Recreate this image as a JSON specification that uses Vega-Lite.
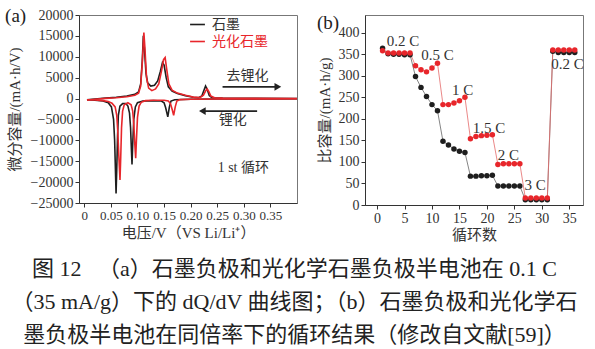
{
  "$schema": "https://vega.github.io/schema/vega-lite/v6.json",
  "background": "white",
  "padding": {"left": 4, "top": 6, "right": 0, "bottom": 0},
  "config": {
    "font": "Liberation Serif, Noto Sans CJK SC",
    "view": {"stroke": "#777", "strokeWidth": 1},
    "axis": {"grid": false, "domainColor": "#333", "tickColor": "#333", "labelColor": "#333", "titleColor": "#333", "labelFont": "Liberation Serif", "titleFont": "Liberation Serif, Noto Sans CJK SC", "titleFontWeight": "normal", "tickSize": 4, "labelPadding": 2, "labelOverlap": false, "labelFlush": false, "tickCount": 30},
    "legend": {"labelFont": "Noto Sans CJK SC", "labelFontSize": 14},
    "title": {"font": "Liberation Serif, Noto Sans CJK SC", "fontWeight": "normal"}
  },
  "title": {
    "text": ["图 12 　（a）石墨负极和光化学石墨负极半电池在 0.1 C", "（35 mA/g）下的 dQ/dV 曲线图；（b）石墨负极和光化学石", "墨负极半电池在同倍率下的循环结果（修改自文献[59]）"],
    "orient": "bottom", "anchor": "middle", "fontSize": 22, "lineHeight": 33, "offset": 16, "color": "#222"
  },
  "hconcat": [
    {
      "width": 218, "height": 188,
      "title": {"text": "(a)", "anchor": "start", "frame": "bounds", "fontSize": 19, "color": "#222", "dy": 22, "dx": -2},
      "layer": [
        {
          "data": {"values": [
            {"v":0.005,"q":-300,"s":"石墨","b":"lith"},{"v":0.02,"q":-400,"s":"石墨","b":"lith"},{"v":0.035,"q":-600,"s":"石墨","b":"lith"},{"v":0.045,"q":-1000,"s":"石墨","b":"lith"},{"v":0.051,"q":-2000,"s":"石墨","b":"lith"},{"v":0.055,"q":-5000,"s":"石墨","b":"lith"},{"v":0.057,"q":-10000,"s":"石墨","b":"lith"},{"v":0.0585,"q":-17000,"s":"石墨","b":"lith"},{"v":0.0597,"q":-22700,"s":"石墨","b":"lith"},{"v":0.061,"q":-17000,"s":"石墨","b":"lith"},{"v":0.0625,"q":-9000,"s":"石墨","b":"lith"},{"v":0.064,"q":-4000,"s":"石墨","b":"lith"},{"v":0.067,"q":-1800,"s":"石墨","b":"lith"},{"v":0.072,"q":-1200,"s":"石墨","b":"lith"},{"v":0.078,"q":-1200,"s":"石墨","b":"lith"},{"v":0.082,"q":-1800,"s":"石墨","b":"lith"},{"v":0.085,"q":-3500,"s":"石墨","b":"lith"},{"v":0.087,"q":-7000,"s":"石墨","b":"lith"},{"v":0.0885,"q":-12000,"s":"石墨","b":"lith"},{"v":0.0897,"q":-15800,"s":"石墨","b":"lith"},{"v":0.091,"q":-11000,"s":"石墨","b":"lith"},{"v":0.093,"q":-5000,"s":"石墨","b":"lith"},{"v":0.096,"q":-2000,"s":"石墨","b":"lith"},{"v":0.1,"q":-1000,"s":"石墨","b":"lith"},{"v":0.11,"q":-600,"s":"石墨","b":"lith"},{"v":0.13,"q":-500,"s":"石墨","b":"lith"},{"v":0.145,"q":-600,"s":"石墨","b":"lith"},{"v":0.15,"q":-1000,"s":"石墨","b":"lith"},{"v":0.153,"q":-2200,"s":"石墨","b":"lith"},{"v":0.157,"q":-4400,"s":"石墨","b":"lith"},{"v":0.16,"q":-2000,"s":"石墨","b":"lith"},{"v":0.163,"q":-600,"s":"石墨","b":"lith"},{"v":0.17,"q":-300,"s":"石墨","b":"lith"},{"v":0.2,"q":-150,"s":"石墨","b":"lith"},{"v":0.25,"q":-100,"s":"石墨","b":"lith"},{"v":0.3,"q":-80,"s":"石墨","b":"lith"},{"v":0.4,"q":-50,"s":"石墨","b":"lith"},
            {"v":0.005,"q":-300,"s":"石墨","b":"delith"},{"v":0.02,"q":-100,"s":"石墨","b":"delith"},{"v":0.04,"q":100,"s":"石墨","b":"delith"},{"v":0.06,"q":300,"s":"石墨","b":"delith"},{"v":0.08,"q":600,"s":"石墨","b":"delith"},{"v":0.095,"q":1000,"s":"石墨","b":"delith"},{"v":0.102,"q":1600,"s":"石墨","b":"delith"},{"v":0.106,"q":3500,"s":"石墨","b":"delith"},{"v":0.109,"q":9000,"s":"石墨","b":"delith"},{"v":0.111,"q":15000,"s":"石墨","b":"delith"},{"v":0.113,"q":12000,"s":"石墨","b":"delith"},{"v":0.116,"q":6000,"s":"石墨","b":"delith"},{"v":0.119,"q":3800,"s":"石墨","b":"delith"},{"v":0.125,"q":3000,"s":"石墨","b":"delith"},{"v":0.132,"q":3200,"s":"石墨","b":"delith"},{"v":0.138,"q":4200,"s":"石墨","b":"delith"},{"v":0.143,"q":6500,"s":"石墨","b":"delith"},{"v":0.147,"q":8600,"s":"石墨","b":"delith"},{"v":0.15,"q":8000,"s":"石墨","b":"delith"},{"v":0.154,"q":5000,"s":"石墨","b":"delith"},{"v":0.158,"q":2800,"s":"石墨","b":"delith"},{"v":0.165,"q":1800,"s":"石墨","b":"delith"},{"v":0.175,"q":1200,"s":"石墨","b":"delith"},{"v":0.19,"q":700,"s":"石墨","b":"delith"},{"v":0.205,"q":300,"s":"石墨","b":"delith"},{"v":0.215,"q":200,"s":"石墨","b":"delith"},{"v":0.221,"q":600,"s":"石墨","b":"delith"},{"v":0.225,"q":2000,"s":"石墨","b":"delith"},{"v":0.228,"q":3000,"s":"石墨","b":"delith"},{"v":0.231,"q":2200,"s":"石墨","b":"delith"},{"v":0.235,"q":700,"s":"石墨","b":"delith"},{"v":0.24,"q":200,"s":"石墨","b":"delith"},{"v":0.26,"q":100,"s":"石墨","b":"delith"},{"v":0.3,"q":50,"s":"石墨","b":"delith"},{"v":0.4,"q":30,"s":"石墨","b":"delith"},
            {"v":0.005,"q":-300,"s":"光化石墨","b":"lith"},{"v":0.02,"q":-350,"s":"光化石墨","b":"lith"},{"v":0.035,"q":-500,"s":"光化石墨","b":"lith"},{"v":0.045,"q":-700,"s":"光化石墨","b":"lith"},{"v":0.052,"q":-1100,"s":"光化石墨","b":"lith"},{"v":0.058,"q":-2000,"s":"光化石墨","b":"lith"},{"v":0.061,"q":-4000,"s":"光化石墨","b":"lith"},{"v":0.063,"q":-8000,"s":"光化石墨","b":"lith"},{"v":0.065,"q":-14000,"s":"光化石墨","b":"lith"},{"v":0.0671,"q":-19500,"s":"光化石墨","b":"lith"},{"v":0.0685,"q":-14000,"s":"光化石墨","b":"lith"},{"v":0.07,"q":-7000,"s":"光化石墨","b":"lith"},{"v":0.072,"q":-3000,"s":"光化石墨","b":"lith"},{"v":0.075,"q":-1500,"s":"光化石墨","b":"lith"},{"v":0.082,"q":-1000,"s":"光化石墨","b":"lith"},{"v":0.088,"q":-1500,"s":"光化石墨","b":"lith"},{"v":0.091,"q":-3000,"s":"光化石墨","b":"lith"},{"v":0.093,"q":-6000,"s":"光化石墨","b":"lith"},{"v":0.095,"q":-11000,"s":"光化石墨","b":"lith"},{"v":0.0966,"q":-14300,"s":"光化石墨","b":"lith"},{"v":0.098,"q":-10000,"s":"光化石墨","b":"lith"},{"v":0.1,"q":-4500,"s":"光化石墨","b":"lith"},{"v":0.103,"q":-1800,"s":"光化石墨","b":"lith"},{"v":0.107,"q":-900,"s":"光化石墨","b":"lith"},{"v":0.115,"q":-500,"s":"光化石墨","b":"lith"},{"v":0.13,"q":-400,"s":"光化石墨","b":"lith"},{"v":0.15,"q":-400,"s":"光化石墨","b":"lith"},{"v":0.158,"q":-600,"s":"光化石墨","b":"lith"},{"v":0.162,"q":-1200,"s":"光化石墨","b":"lith"},{"v":0.165,"q":-2500,"s":"光化石墨","b":"lith"},{"v":0.168,"q":-4000,"s":"光化石墨","b":"lith"},{"v":0.171,"q":-2000,"s":"光化石墨","b":"lith"},{"v":0.174,"q":-600,"s":"光化石墨","b":"lith"},{"v":0.18,"q":-250,"s":"光化石墨","b":"lith"},{"v":0.2,"q":-150,"s":"光化石墨","b":"lith"},{"v":0.25,"q":-100,"s":"光化石墨","b":"lith"},{"v":0.3,"q":-80,"s":"光化石墨","b":"lith"},{"v":0.4,"q":-60,"s":"光化石墨","b":"lith"},
            {"v":0.005,"q":-350,"s":"光化石墨","b":"delith"},{"v":0.02,"q":-150,"s":"光化石墨","b":"delith"},{"v":0.04,"q":50,"s":"光化石墨","b":"delith"},{"v":0.06,"q":200,"s":"光化石墨","b":"delith"},{"v":0.08,"q":450,"s":"光化石墨","b":"delith"},{"v":0.095,"q":800,"s":"光化石墨","b":"delith"},{"v":0.102,"q":1300,"s":"光化石墨","b":"delith"},{"v":0.106,"q":3000,"s":"光化石墨","b":"delith"},{"v":0.109,"q":8500,"s":"光化石墨","b":"delith"},{"v":0.112,"q":15800,"s":"光化石墨","b":"delith"},{"v":0.114,"q":12000,"s":"光化石墨","b":"delith"},{"v":0.117,"q":5000,"s":"光化石墨","b":"delith"},{"v":0.121,"q":2500,"s":"光化石墨","b":"delith"},{"v":0.127,"q":1900,"s":"光化石墨","b":"delith"},{"v":0.134,"q":2300,"s":"光化石墨","b":"delith"},{"v":0.14,"q":3500,"s":"光化石墨","b":"delith"},{"v":0.145,"q":6500,"s":"光化石墨","b":"delith"},{"v":0.149,"q":9300,"s":"光化石墨","b":"delith"},{"v":0.152,"q":9800,"s":"光化石墨","b":"delith"},{"v":0.155,"q":7000,"s":"光化石墨","b":"delith"},{"v":0.159,"q":3500,"s":"光化石墨","b":"delith"},{"v":0.165,"q":2000,"s":"光化石墨","b":"delith"},{"v":0.175,"q":1300,"s":"光化石墨","b":"delith"},{"v":0.19,"q":800,"s":"光化石墨","b":"delith"},{"v":0.205,"q":350,"s":"光化石墨","b":"delith"},{"v":0.218,"q":250,"s":"光化石墨","b":"delith"},{"v":0.224,"q":800,"s":"光化石墨","b":"delith"},{"v":0.228,"q":1800,"s":"光化石墨","b":"delith"},{"v":0.231,"q":2300,"s":"光化石墨","b":"delith"},{"v":0.234,"q":1700,"s":"光化石墨","b":"delith"},{"v":0.238,"q":600,"s":"光化石墨","b":"delith"},{"v":0.245,"q":200,"s":"光化石墨","b":"delith"},{"v":0.26,"q":100,"s":"光化石墨","b":"delith"},{"v":0.3,"q":50,"s":"光化石墨","b":"delith"},{"v":0.4,"q":30,"s":"光化石墨","b":"delith"}
          ]},
          "mark": {"type": "line", "strokeWidth": 1.6, "clip": true},
          "encoding": {
            "x": {"field": "v", "type": "quantitative", "scale": {"domain": [-0.01, 0.4], "nice": false, "zero": false},
                  "axis": {"values": [0, 0.05, 0.1, 0.15, 0.2, 0.25, 0.3, 0.35], "tickCount": 30, "labelOverlap": false, "labelExpr": "datum.value == 0 ? '0' : format(datum.value, '.2f')", "labelFontSize": 13, "title": "电压/V（VS Li/Li⁺）", "titleFontSize": 15, "titlePadding": 3}},
            "y": {"field": "q", "type": "quantitative", "scale": {"domain": [-25000, 20000], "nice": false},
                  "axis": {"values": [-25000, -20000, -15000, -10000, -5000, 0, 5000, 10000, 15000, 20000], "tickCount": 30, "labelOverlap": false, "format": "d", "labelFontSize": 14, "title": "微分容量/(mA·h/V)", "titleFontSize": 15, "titlePadding": 8}},
            "color": {"field": "s", "type": "nominal", "sort": ["石墨", "光化石墨"], "scale": {"domain": ["石墨", "光化石墨"], "range": ["#1e1e1e", "#e8262b"]},
                      "legend": {"title": null, "orient": "none", "legendX": 110, "legendY": 1, "symbolType": "stroke", "symbolSize": 220, "symbolStrokeWidth": 1.6, "rowPadding": 1, "labelOffset": 6,
                                 "encode": {"labels": {"update": {"fill": {"signal": "datum.value == '光化石墨' ? '#e8262b' : '#333'"}}}}}},
            "detail": {"field": "b", "type": "nominal"}
          }
        },
        {
          "data": {"values": [
            {"x1": 0.26, "x2": 0.362, "y": 2800},
            {"x1": 0.325, "x2": 0.226, "y": -3000}
          ]},
          "mark": {"type": "rule", "strokeWidth": 1.8, "color": "#222"},
          "encoding": {"x": {"field": "x1", "type": "quantitative"}, "x2": {"field": "x2"}, "y": {"field": "y", "type": "quantitative"}}
        },
        {
          "data": {"values": [
            {"x": 0.364, "y": 2800, "sh": "triangle-right"},
            {"x": 0.222, "y": -3000, "sh": "triangle-left"}
          ]},
          "mark": {"type": "point", "filled": true, "size": 60, "color": "#222", "opacity": 1},
          "encoding": {"x": {"field": "x", "type": "quantitative"}, "y": {"field": "y", "type": "quantitative"}, "shape": {"field": "sh", "type": "nominal", "scale": null}}
        },
        {
          "data": {"values": [
            {"x": 0.307, "y": 5300, "t": "去锂化"},
            {"x": 0.279, "y": -5100, "t": "锂化"},
            {"x": 0.299, "y": -16600, "t": "1 st 循环"}
          ]},
          "mark": {"type": "text", "fontSize": 14, "color": "#333", "baseline": "middle", "align": "center"},
          "encoding": {"x": {"field": "x", "type": "quantitative"}, "y": {"field": "y", "type": "quantitative"}, "text": {"field": "t"}}
        }
      ]
    },
    {
      "width": 218, "height": 190,
      "title": {"text": "(b)", "anchor": "start", "frame": "bounds", "fontSize": 19, "color": "#222", "dy": 22, "dx": 0},
      "layer": [
        {
          "data": {"name": "rate"},
          "mark": {"type": "line", "strokeWidth": 0.8},
          "encoding": {
            "x": {"field": "c", "type": "quantitative", "scale": {"domain": [-2.2, 37.5], "nice": false, "zero": false},
                  "axis": {"values": [0, 5, 10, 15, 20, 25, 30, 35], "tickCount": 30, "labelOverlap": false, "labelFontSize": 14, "title": "循环数", "titleFontSize": 15, "titlePadding": 2}},
            "y": {"field": "cap", "type": "quantitative", "scale": {"domain": [0, 441], "nice": false},
                  "axis": {"values": [0, 50, 100, 150, 200, 250, 300, 350, 400], "tickCount": 30, "labelOverlap": false, "labelFontSize": 14, "title": "比容量/(mA·h/g)", "titleFontSize": 15, "titlePadding": 6}},
            "stroke": {"field": "s", "type": "nominal", "scale": {"domain": ["石墨", "光化石墨"], "range": ["#666666", "#e46a6a"]}, "legend": null}
          }
        },
        {
          "data": {"name": "rate"},
          "mark": {"type": "point", "filled": true, "size": 30, "opacity": 1},
          "encoding": {
            "x": {"field": "c", "type": "quantitative"},
            "y": {"field": "cap", "type": "quantitative"},
            "color": {"field": "s", "type": "nominal", "scale": {"domain": ["石墨", "光化石墨"], "range": ["#111111", "#e8262b"]},
                      "legend": {"title": null, "orient": "none", "legendX": 118, "legendY": 3, "symbolType": "M-1,0H-0.3M0.3,0H1M0.3,0A0.3,0.3,0,1,1,-0.3,0A0.3,0.3,0,1,1,0.3,0Z", "symbolSize": 300, "symbolStrokeWidth": 0.8, "rowPadding": 0, "labelOffset": 4,
                                 "encode": {"symbols": {"update": {"stroke": {"signal": "datum.value == '光化石墨' ? '#e46a6a' : '#666'"}}}, "labels": {"update": {"fill": {"signal": "datum.value == '光化石墨' ? '#e8262b' : '#333'"}}}}}}
          }
        },
        {
          "data": {"values": [
            {"x": 4.7, "y": 381, "t": "0.2 C"},
            {"x": 11.0, "y": 347, "t": "0.5 C"},
            {"x": 15.6, "y": 268, "t": "1 C"},
            {"x": 20.4, "y": 179, "t": "1.5 C"},
            {"x": 23.9, "y": 115, "t": "2 C"},
            {"x": 28.8, "y": 46, "t": "3 C"},
            {"x": 34.7, "y": 327, "t": "0.2 C"}
          ]},
          "mark": {"type": "text", "fontSize": 15, "color": "#333", "baseline": "middle", "align": "center", "font": "Liberation Serif"},
          "encoding": {"x": {"field": "x", "type": "quantitative"}, "y": {"field": "y", "type": "quantitative"}, "text": {"field": "t"}}
        }
      ]
    }
  ],
  "spacing": 18,
  "datasets": {
    "rate": [
      {"c":1,"cap":364,"s":"石墨"},{"c":2,"cap":351,"s":"石墨"},{"c":3,"cap":350,"s":"石墨"},{"c":4,"cap":350,"s":"石墨"},{"c":5,"cap":349,"s":"石墨"},{"c":6,"cap":349,"s":"石墨"},
      {"c":7,"cap":298,"s":"石墨"},{"c":8,"cap":273,"s":"石墨"},{"c":9,"cap":252,"s":"石墨"},{"c":10,"cap":233,"s":"石墨"},{"c":11,"cap":219,"s":"石墨"},
      {"c":12,"cap":148,"s":"石墨"},{"c":13,"cap":139,"s":"石墨"},{"c":14,"cap":130,"s":"石墨"},{"c":15,"cap":125,"s":"石墨"},{"c":16,"cap":122,"s":"石墨"},
      {"c":17,"cap":67,"s":"石墨"},{"c":18,"cap":67,"s":"石墨"},{"c":19,"cap":68,"s":"石墨"},{"c":20,"cap":68,"s":"石墨"},{"c":21,"cap":69,"s":"石墨"},
      {"c":22,"cap":44,"s":"石墨"},{"c":23,"cap":44,"s":"石墨"},{"c":24,"cap":44,"s":"石墨"},{"c":25,"cap":44,"s":"石墨"},{"c":26,"cap":44,"s":"石墨"},
      {"c":27,"cap":12,"s":"石墨"},{"c":28,"cap":12,"s":"石墨"},{"c":29,"cap":12,"s":"石墨"},{"c":30,"cap":12,"s":"石墨"},{"c":31,"cap":12,"s":"石墨"},
      {"c":32,"cap":357,"s":"石墨"},{"c":33,"cap":354,"s":"石墨"},{"c":34,"cap":354,"s":"石墨"},{"c":35,"cap":354,"s":"石墨"},{"c":36,"cap":354,"s":"石墨"},
      {"c":1,"cap":358,"s":"光化石墨"},{"c":2,"cap":353,"s":"光化石墨"},{"c":3,"cap":353,"s":"光化石墨"},{"c":4,"cap":353,"s":"光化石墨"},{"c":5,"cap":353,"s":"光化石墨"},{"c":6,"cap":353,"s":"光化石墨"},
      {"c":7,"cap":323,"s":"光化石墨"},{"c":8,"cap":314,"s":"光化石墨"},{"c":9,"cap":309,"s":"光化石墨"},{"c":10,"cap":318,"s":"光化石墨"},{"c":11,"cap":329,"s":"光化石墨"},
      {"c":12,"cap":233,"s":"光化石墨"},{"c":13,"cap":233,"s":"光化石墨"},{"c":14,"cap":237,"s":"光化石墨"},{"c":15,"cap":242,"s":"光化石墨"},{"c":16,"cap":250,"s":"光化石墨"},
      {"c":17,"cap":154,"s":"光化石墨"},{"c":18,"cap":159,"s":"光化石墨"},{"c":19,"cap":161,"s":"光化石墨"},{"c":20,"cap":162,"s":"光化石墨"},{"c":21,"cap":163,"s":"光化石墨"},
      {"c":22,"cap":94,"s":"光化石墨"},{"c":23,"cap":96,"s":"光化石墨"},{"c":24,"cap":96,"s":"光化石墨"},{"c":25,"cap":96,"s":"光化石墨"},{"c":26,"cap":96,"s":"光化石墨"},
      {"c":27,"cap":16,"s":"光化石墨"},{"c":28,"cap":16,"s":"光化石墨"},{"c":29,"cap":16,"s":"光化石墨"},{"c":30,"cap":16,"s":"光化石墨"},{"c":31,"cap":16,"s":"光化石墨"},
      {"c":32,"cap":360,"s":"光化石墨"},{"c":33,"cap":360,"s":"光化石墨"},{"c":34,"cap":360,"s":"光化石墨"},{"c":35,"cap":360,"s":"光化石墨"},{"c":36,"cap":360,"s":"光化石墨"}
    ]
  }
}
